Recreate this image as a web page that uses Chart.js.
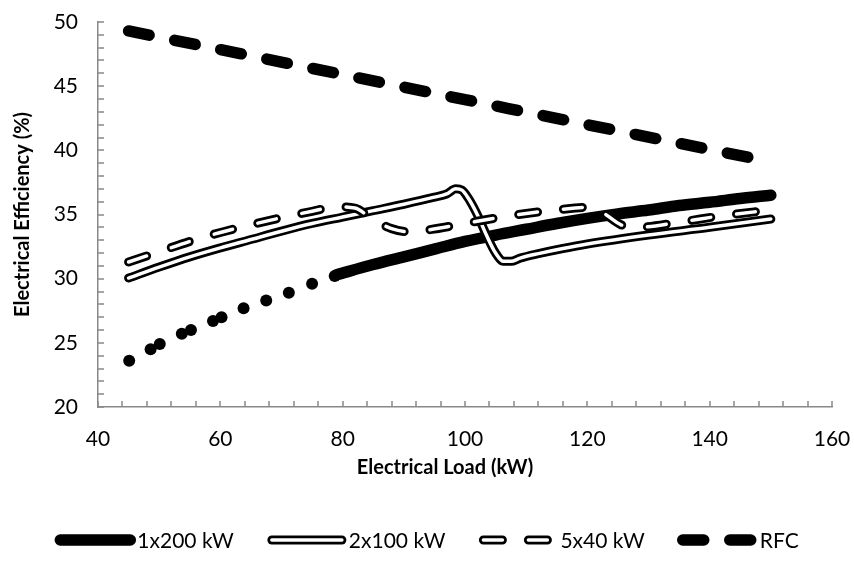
<!DOCTYPE html>
<html>
<head>
<meta charset="utf-8">
<title>Electrical Efficiency vs Load</title>
<script src="https://cdn.jsdelivr.net/npm/chart.js@4/dist/chart.umd.min.js"></script>
<style>
    html, body { margin: 0; padding: 0; background: #fff; }
    #wrap { width: 854px; height: 567px; }
</style>
</head>
<body>
<div id="wrap"><canvas id="chart" width="854" height="567"></canvas></div>
<script>
// 1x200 kW, low-load part (shown as dots)
const loadDotted = [45.1, 48.6, 50.1, 53.7, 55.2, 58.8, 60.2, 63.8, 67.5, 71.2, 75.0, 78.7];
const eff1x200Dotted = [23.6, 24.5, 24.9, 25.7, 26.0, 26.7, 27.0, 27.7, 28.3, 28.9, 29.6, 30.2];

// 1x200 kW, solid part
const load1x200 = [79, 85, 90, 95, 100, 105, 110, 115, 120, 125, 130, 135, 140, 145, 150];
const eff1x200 = [30.3, 31.1, 31.7, 32.3, 32.9, 33.4, 33.85, 34.3, 34.7, 35.05, 35.35, 35.7, 35.95, 36.25, 36.5];

// 2x100 kW
const load2x100 = [45, 50, 55, 60, 65, 70, 75, 80, 85, 90, 95, 97, 98.5, 99.5, 100.5, 102, 103.5, 105, 106.3, 107.5, 109, 112, 116, 120, 130, 140, 150];
const eff2x100 = [30.05, 30.9, 31.7, 32.4, 33.05, 33.7, 34.3, 34.8, 35.3, 35.8, 36.35, 36.6, 37.0, 36.9, 36.3, 35.0, 33.4, 32.0, 31.35, 31.35, 31.6, 31.95, 32.35, 32.7, 33.4, 34.0, 34.65];

// 5x40 kW
const load5x40 = [45, 50, 55, 60, 65, 70, 75, 79, 82, 85, 88, 91, 94, 100, 106, 112, 118, 121, 123, 125.5, 128, 135, 142, 150];
const eff5x40 = [31.3, 32.1, 32.9, 33.6, 34.2, 34.75, 35.25, 35.6, 35.5, 34.6, 33.9, 33.65, 33.8, 34.3, 34.8, 35.2, 35.5, 35.6, 35.0, 34.2, 34.0, 34.4, 34.9, 35.35];

// RFC
const loadRFC = [45, 60, 80, 100, 120, 150];
const effRFC = [49.3, 47.85, 45.9, 43.95, 42.0, 39.1];

const seriesNames = ['1x200 kW', '2x100 kW', '5x40 kW', 'RFC'];

const AXIS_COLOR = '#898989';
const FONT = 'Lato, "Open Sans", sans-serif';

function pts(xs, ys) {
    return xs.map((x, i) => ({ x: x, y: ys[i] }));
}

function line(label, xs, ys, color, width, dash, order) {
    return {
        label: label,
        data: pts(xs, ys),
        borderColor: color,
        borderWidth: width,
        borderDash: dash,
        borderCapStyle: 'round',
        borderJoinStyle: 'round',
        cubicInterpolationMode: 'monotone',
        pointRadius: 0,
        fill: false,
        order: order
    };
}

const datasets = [
    line(seriesNames[3], loadRFC, effRFC, '#000', 11.5, [21, 26], 0),
    line(seriesNames[2], load5x40, eff5x40, '#fff', 3.5, [19, 26], 1),
    line(seriesNames[2], load5x40, eff5x40, '#000', 9, [19, 26], 2),
    line(seriesNames[1], load2x100, eff2x100, '#fff', 3.5, [], 3),
    line(seriesNames[1], load2x100, eff2x100, '#000', 9, [], 4),
    line(seriesNames[0], load1x200, eff1x200, '#000', 11.5, [], 5),
    {
        label: seriesNames[0],
        data: pts(loadDotted, eff1x200Dotted),
        showLine: false,
        pointRadius: 6,
        pointBackgroundColor: '#000',
        pointBorderWidth: 0,
        order: 6,
        dotted: true
    }
];

// ticks pointing into the plot, legend and x title
const overlay = {
    id: 'overlay',
    beforeDatasetsDraw(chart) {
        const ctx = chart.ctx;
        const xs = chart.scales.x;
        const ys = chart.scales.y;
        ctx.save();
        ctx.strokeStyle = AXIS_COLOR;
        ctx.lineWidth = 1.5;
        ctx.beginPath();
        xs.ticks.forEach(t => {
            const p = Math.round(xs.getPixelForValue(t.value));
            ctx.moveTo(p, xs.top);
            ctx.lineTo(p, xs.top - 6);
        });
        ys.ticks.forEach(t => {
            const p = Math.round(ys.getPixelForValue(t.value));
            ctx.moveTo(ys.right, p);
            ctx.lineTo(ys.right + 6, p);
        });
        ctx.stroke();
        ctx.restore();
    },
    afterDraw(chart) {
        const ctx = chart.ctx;
        ctx.save();

        // x axis title
        ctx.fillStyle = '#000';
        ctx.font = 'bold 20px ' + FONT;
        ctx.textAlign = 'center';
        ctx.textBaseline = 'middle';
        ctx.fillText('Electrical Load (kW)', 445, 468);

        // legend
        ctx.font = '21px ' + FONT;
        ctx.textAlign = 'left';
        const lineLen = 80;
        const textGap = 2;
        const itemGap = 33;
        const legendY = 540;
        const widths = seriesNames.map(n => lineLen + textGap + ctx.measureText(n).width);
        const total = widths.reduce((a, b) => a + b, 0) + itemGap * (seriesNames.length - 1);
        let x = chart.width / 2 - total / 2;

        seriesNames.forEach((name, i) => {
            const styles = chart.data.datasets
                .filter(d => d.label === name && !d.dotted)
                .sort((a, b) => b.order - a.order);
            styles.forEach(d => {
                ctx.beginPath();
                ctx.setLineDash(d.borderDash || []);
                ctx.lineWidth = d.borderWidth;
                ctx.strokeStyle = d.borderColor;
                ctx.lineCap = 'round';
                ctx.moveTo(x + 5, legendY);
                ctx.lineTo(x + lineLen - 5, legendY);
                ctx.stroke();
            });
            ctx.setLineDash([]);
            ctx.fillStyle = '#000';
            ctx.fillText(name, x + lineLen + textGap, legendY + 1);
            x += widths[i] + itemGap;
        });
        ctx.restore();
    }
};

new Chart(document.getElementById('chart').getContext('2d'), {
    type: 'line',
    data: { datasets: datasets },
    options: {
        responsive: false,
        animation: false,
        devicePixelRatio: 1,
        layout: { padding: { left: 0, top: 22, right: 22, bottom: 87 } },
        plugins: {
            legend: { display: false },
            tooltip: { enabled: false }
        },
        scales: {
            x: {
                type: 'linear',
                min: 40,
                max: 160,
                grid: { display: false, drawTicks: false },
                border: { display: true, color: AXIS_COLOR, width: 1.5 },
                ticks: {
                    stepSize: 4,
                    autoSkip: false,
                    maxRotation: 0,
                    padding: 20,
                    color: '#000',
                    font: { family: FONT, size: 21 },
                    callback: v => (v % 20 === 0 ? v : '')
                },
                afterFit(scale) {
                    scale.height = 73;
                    scale.paddingLeft = 0;
                    scale.paddingRight = 0;
                }
            },
            y: {
                min: 20,
                max: 50,
                grid: { display: false, drawTicks: false },
                border: { display: true, color: AXIS_COLOR, width: 1.5 },
                ticks: {
                    stepSize: 1,
                    autoSkip: false,
                    padding: 20,
                    color: '#000',
                    font: { family: FONT, size: 21 },
                    callback: v => (v % 5 === 0 ? v : '')
                },
                title: {
                    display: true,
                    text: 'Electrical Efficiency (%)',
                    color: '#000',
                    font: { family: FONT, size: 20, weight: 'bold' },
                    padding: { top: 11, bottom: 0 }
                },
                afterFit(scale) {
                    scale.width = 98;
                    scale.paddingTop = 0;
                    scale.paddingBottom = 0;
                }
            }
        }
    },
    plugins: [overlay]
});
</script>
</body>
</html>
